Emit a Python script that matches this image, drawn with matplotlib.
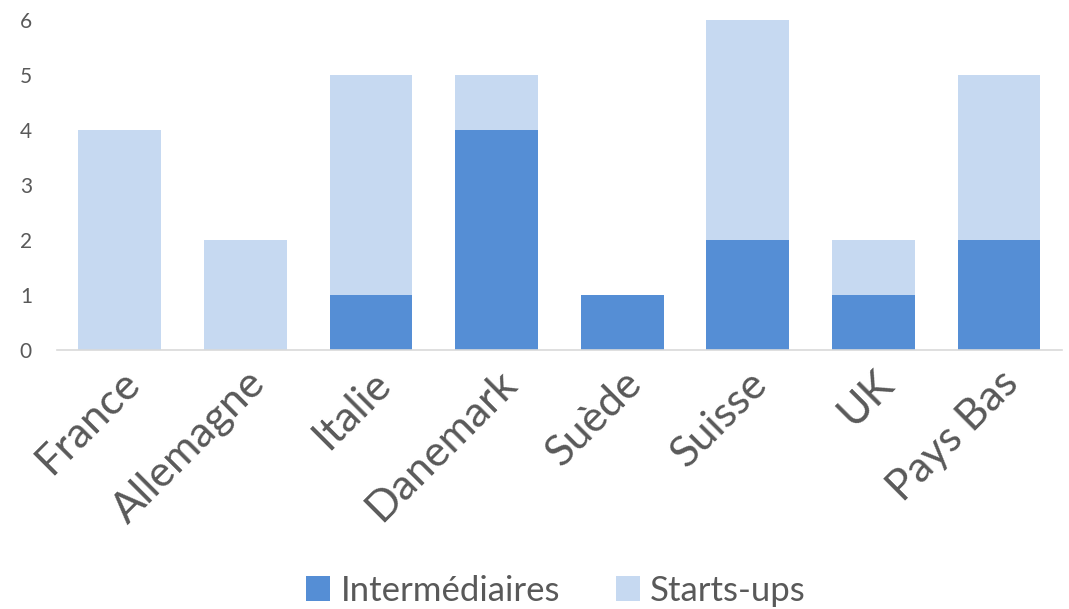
import numpy as np
import matplotlib.pyplot as plt

plt.rcParams['font.family'] = ['Lato', 'DejaVu Sans']

# donnees
pays = ["France", "Allemagne", "Italie", "Danemark", "Suède", "Suisse", "UK", "Pays Bas"]
intermediaires = [0, 0, 1, 4, 1, 2, 1, 2]
startups = [4, 2, 4, 1, 0, 4, 1, 3]

bleu = "#558ED5"
bleu_clair = "#C6D9F1"
gris = "#595959"

fig = plt.figure(figsize=(10.69, 6.09), dpi=100)
ax = fig.add_axes([0.0533, 0.4253, 0.94, 0.5417])

x = np.arange(len(pays))
ax.bar(x, intermediaires, width=0.66, color=bleu, label="Intermédiaires")
ax.bar(x, startups, width=0.66, bottom=intermediaires, color=bleu_clair, label="Starts-ups")

ax.set_xlim(-0.5, len(pays) - 0.5)
ax.set_ylim(0, 6)
ax.set_yticks(range(7))
ax.set_xticks(x)
ax.set_xticklabels(pays, rotation=45, ha="right", rotation_mode="anchor", fontsize=31, color=gris)
ax.tick_params(axis="y", labelsize=15, labelcolor=gris, length=0, pad=18)
ax.tick_params(axis="x", length=0, pad=10)

for s in ["top", "right", "left"]:
    ax.spines[s].set_visible(False)
ax.spines["bottom"].set_color("#D9D9D9")
ax.spines["bottom"].set_linewidth(1.2)

fig.legend(loc="center", bbox_to_anchor=(0.52, 0.03), ncol=2, frameon=False,
           fontsize=25, labelcolor=gris, handlelength=0.7, handleheight=0.7,
           columnspacing=1.6, handletextpad=0.3)

fig.savefig("out.png", dpi=100)
